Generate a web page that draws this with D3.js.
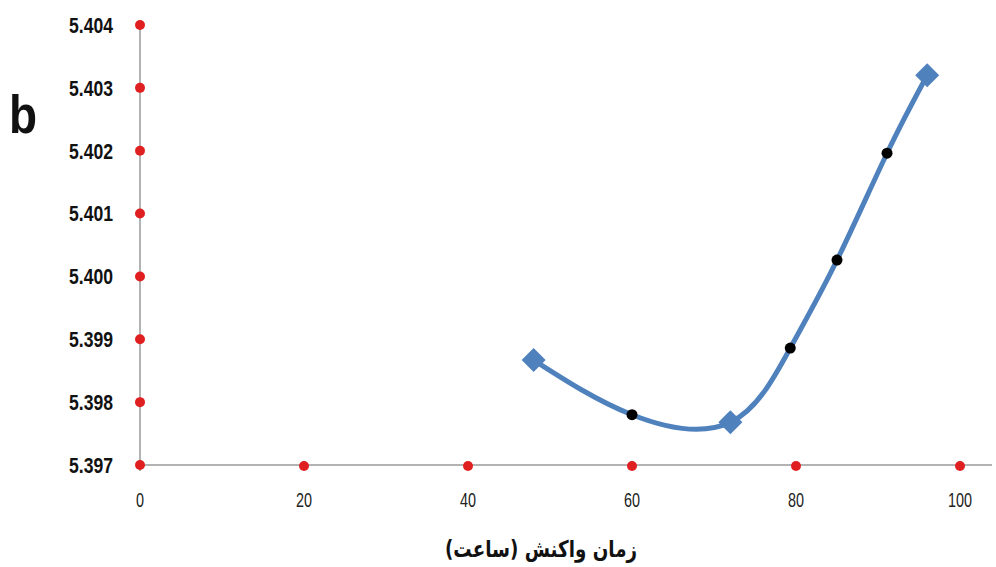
<!DOCTYPE html>
<html>
<head>
<meta charset="utf-8">
<script src="https://cdn.jsdelivr.net/npm/d3@7"></script>
<style>
  html, body { margin: 0; padding: 0; background: #fff; }
  svg { display: block; }
</style>
</head>
<body>
<svg id="chart" width="996" height="567"></svg>
<script>
// Lattice parameter vs. reaction time
const measuredTime = [48, 72, 96];
const measuredValue = [5.39867, 5.39768, 5.40320];

const fittedTime = [60, 79.3, 85.0, 91.1];
const fittedValue = [5.39780, 5.39886, 5.40026, 5.40196];

const xTicks = [0, 20, 40, 60, 80, 100];
const yTicks = [5.397, 5.398, 5.399, 5.400, 5.401, 5.402, 5.403, 5.404];
const xTitle = "زمان واکنش (ساعت)";
const panelLabel = "b";

const svg = d3.select("#chart");
const x = d3.scaleLinear().domain([0, 100]).range([140, 960]);
const y = d3.scaleLinear().domain([5.397, 5.404]).range([465, 25]);

// axes lines
svg.append("line")
  .attr("x1", x(0)).attr("x2", x(0))
  .attr("y1", y(5.404)).attr("y2", y(5.397) + 6)
  .attr("stroke", "#9a9a9a").attr("stroke-width", 1.5);
svg.append("line")
  .attr("x1", x(0)).attr("x2", 992)
  .attr("y1", y(5.397)).attr("y2", y(5.397))
  .attr("stroke", "#9a9a9a").attr("stroke-width", 1.5);

// y tick labels (bold, condensed)
svg.append("g").selectAll("text").data(yTicks).join("text")
  .attr("x", 69)
  .attr("y", d => y(d))
  .attr("dy", "0.36em")
  .attr("font-family", "'Liberation Sans', Arial, sans-serif")
  .attr("font-weight", "bold")
  .attr("font-size", 22)
  .attr("textLength", 44)
  .attr("lengthAdjust", "spacingAndGlyphs")
  .attr("fill", "#111")
  .text(d => d.toFixed(3));

// x tick labels (condensed)
svg.append("g").selectAll("text").data(xTicks).join("text")
  .attr("transform", d => `translate(${x(d)},500) scale(0.72,1)`)
  .attr("dy", "0.36em")
  .attr("text-anchor", "middle")
  .attr("font-family", "'Liberation Sans', Arial, sans-serif")
  .attr("font-size", 20)
  .attr("fill", "#222")
  .text(d => d);

// red tick dots on both axes
const dotR = 5;
svg.append("g").selectAll("circle").data(yTicks).join("circle")
  .attr("cx", x(0)).attr("cy", d => y(d)).attr("r", dotR).attr("fill", "#e02020");
svg.append("g").selectAll("circle").data(xTicks.slice(1)).join("circle")
  .attr("cx", d => x(d)).attr("cy", y(5.397) + 1).attr("r", dotR).attr("fill", "#e02020");

// smooth curve through measured and interpolated points
const pts = measuredTime.map((t, i) => [t, measuredValue[i]]);
const fit = fittedTime.map((t, i) => [t, fittedValue[i]]);
const all = pts.concat(fit).sort((a, b) => a[0] - b[0]);
const line = d3.line().x(d => x(d[0])).y(d => y(d[1])).curve(d3.curveNatural);
svg.append("path")
  .attr("d", line(all))
  .attr("fill", "none")
  .attr("stroke", "#4f81bd")
  .attr("stroke-width", 5)
  .attr("stroke-linecap", "round");

// measured markers (diamonds)
svg.append("g").selectAll("path").data(pts).join("path")
  .attr("transform", d => `translate(${x(d[0])},${y(d[1])})`)
  .attr("d", "M0,-12L12,0L0,12L-12,0Z")
  .attr("fill", "#4f81bd");

// interpolated points (black)
svg.append("g").selectAll("circle").data(fit).join("circle")
  .attr("cx", d => x(d[0])).attr("cy", d => y(d[1])).attr("r", 5.5).attr("fill", "#000");

// x axis title
svg.append("text")
  .attr("x", 541).attr("y", 557)
  .attr("text-anchor", "middle")
  .attr("direction", "rtl")
  .attr("font-family", "'DejaVu Sans', sans-serif")
  .attr("font-weight", "bold")
  .attr("font-size", 23)
  .attr("textLength", 192)
  .attr("lengthAdjust", "spacingAndGlyphs")
  .attr("fill", "#111")
  .text(xTitle);

// panel label
svg.append("text")
  .attr("transform", "translate(9,133) scale(0.85,1)")
  .attr("font-family", "'Liberation Sans', Arial, sans-serif")
  .attr("font-weight", "bold")
  .attr("font-size", 54)
  .attr("fill", "#111")
  .text(panelLabel);
</script>
</body>
</html>
